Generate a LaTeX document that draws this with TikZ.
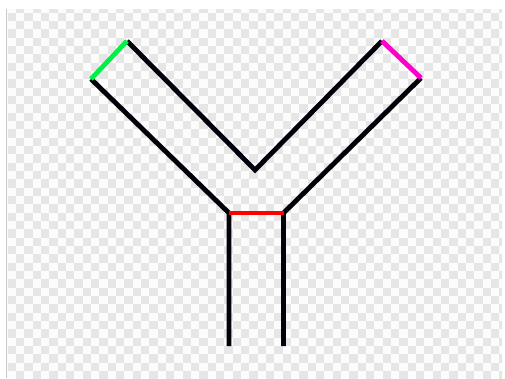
\documentclass[tikz,border=0pt]{standalone}
\usepackage{tikz}
\usetikzlibrary{calc}

\definecolor{checkgray}{HTML}{E6E6E6}
\definecolor{checkwhite}{HTML}{FCFCFC}
\definecolor{framegray}{HTML}{C8C8C8}
\definecolor{inkblack}{HTML}{02020A}
\definecolor{capgreen}{HTML}{00F048}
\definecolor{capmagenta}{HTML}{FF00CC}
\definecolor{capred}{HTML}{FF0000}

\begin{document}
\begin{tikzpicture}[
    x=1pt, y=-1pt,
    wall/.style={draw=inkblack, line width=4.8pt, line join=miter},
    opening/.style={line width=4.8pt},
    square/.style={fill=checkgray}
]
\useasboundingbox (0,0) rectangle (505,378);

% Transparent canvas (checkerboard)
\fill[checkwhite] (7,9) rectangle (502,378);
\begin{scope}
  \clip (7,9) rectangle (502,378);
  \foreach \i in {0,...,59}
    \foreach \j in {0,...,45}{
      \ifodd\numexpr\i+\j\relax
        \fill[square] ({7.667+8.333*\i},{4.333+8.333*\j}) rectangle +(8.333,8.333);
      \fi
    }
\end{scope}
\draw[framegray, line width=1.3pt] (6.6,9) -- (6.6,378);

% Points of the Y shape
\coordinate (armLa) at (91,79);
\coordinate (armLb) at (127,41);
\coordinate (vnotch) at (255,170);
\coordinate (armRa) at (382,41);
\coordinate (armRb) at (421,78);
\coordinate (jointL) at (229,213);
\coordinate (jointR) at (283.5,213);
\coordinate (footL) at (229,346);
\coordinate (footR) at (283.5,346);

% Black walls
\draw[wall] (armLb) -- (vnotch) -- (armRa);
\draw[wall] (armLa) -- (jointL) -- (footL);
\draw[wall] (armRb) -- (jointR) -- (footR);

% Coloured openings
\draw[opening, capgreen] (armLa) -- (armLb);
\draw[opening, capmagenta] (armRa) -- (armRb);
\draw[opening, capred] (jointL) -- (jointR);

\end{tikzpicture}
\end{document}
